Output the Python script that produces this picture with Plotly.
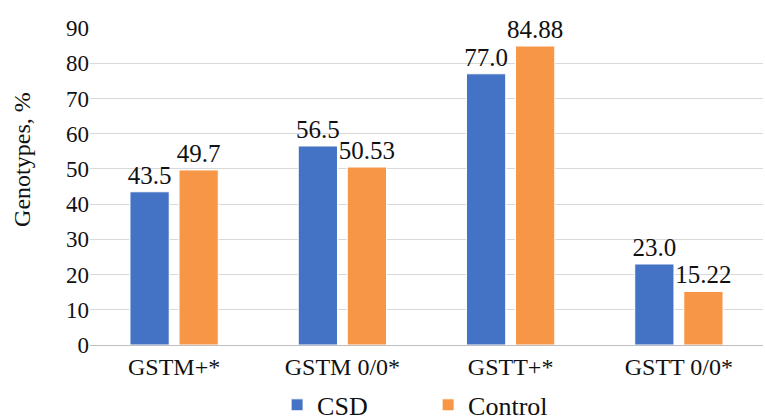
import plotly.graph_objects as go

categories = ["GSTM+*", "GSTM 0/0*", "GSTT+*", "GSTT 0/0*"]
csd = [43.5, 56.5, 77.0, 23.0]
control = [49.7, 50.53, 84.88, 15.22]
csd_labels = ["43.5", "56.5", "77.0", "23.0"]
control_labels = ["49.7", "50.53", "84.88", "15.22"]
y_title = "Genotypes, %"

FONT = "serif"
INK = "#111111"

fig = go.Figure()
fig.add_trace(go.Bar(x=categories, y=csd, name="CSD",
                     marker=dict(color="#4472C4", line=dict(color="white", width=1)),
                     text=csd_labels, textposition="outside", cliponaxis=False,
                     constraintext="none",
                     textfont=dict(family=FONT, size=25, color=INK)))
fig.add_trace(go.Bar(x=categories, y=control, name="Control",
                     marker=dict(color="#F79646", line=dict(color="white", width=1)),
                     text=control_labels, textposition="outside", cliponaxis=False,
                     constraintext="none",
                     textfont=dict(family=FONT, size=25, color=INK)))

fig.add_annotation(text=y_title, xref="paper", yref="paper",
                   x=-0.101, y=0.584, xanchor="center", yanchor="middle",
                   textangle=-90, showarrow=False,
                   font=dict(family=FONT, size=24, color=INK))

fig.update_layout(
    width=765, height=420,
    margin=dict(l=90, r=2, t=28, b=75, autoexpand=False),
    paper_bgcolor="white", plot_bgcolor="white",
    barmode="group", bargap=0.417, bargroupgap=0.2,
    font=dict(family=FONT, size=20, color=INK),
    legend=dict(orientation="h", x=0.278, xanchor="left",
                y=-0.189, yanchor="middle", entrywidth=106, entrywidthmode="pixels",
                font=dict(family=FONT, size=26), traceorder="normal"),
    xaxis=dict(showline=True, linecolor="#bfbfbf", linewidth=1, ticks="",
               tickfont=dict(family=FONT, size=24), automargin=False),
    yaxis=dict(range=[0, 90], dtick=10, showgrid=True, gridcolor="#d9d9d9", gridwidth=1,
               zeroline=False, ticks="", tickfont=dict(family=FONT, size=23),
               automargin=False),
)

fig.write_html("out.html", config={"displayModeBar": False})
with open("out.html", "r", encoding="utf-8") as f:
    html = f.read()
html = html.replace("<head>", "<head><style>html,body{margin:0;padding:0;overflow:hidden;}</style>", 1)
with open("out.html", "w", encoding="utf-8") as f:
    f.write(html)
